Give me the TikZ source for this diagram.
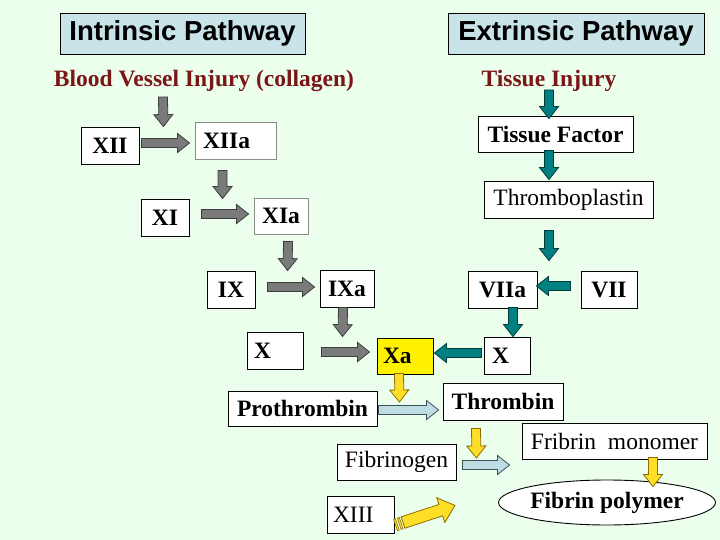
\documentclass[tikz,border=0pt]{standalone}
\usepackage{fontspec}
\setmainfont{Liberation Serif}
\newfontfamily\arialfam{Liberation Sans}
\usetikzlibrary{calc,shapes.geometric}
\definecolor{bg}{RGB}{236,255,236}
\definecolor{titlefill}{RGB}{200,228,232}
\definecolor{maroonc}{RGB}{122,22,22}
\definecolor{arrgray}{RGB}{122,122,122}
\definecolor{arrgrayd}{RGB}{60,60,60}
\definecolor{tealc}{RGB}{0,128,128}
\definecolor{teald}{RGB}{0,60,60}
\definecolor{yelc}{RGB}{255,222,40}
\definecolor{yeld}{RGB}{140,110,0}
\definecolor{lbluec}{RGB}{190,220,228}
\definecolor{lblued}{RGB}{60,80,90}
\definecolor{boxgray}{RGB}{140,140,140}
\newcommand{\tmsize}{\fontsize{23.5}{28}\selectfont}
\def\bsh{4.5pt}\def\bhh{9.5pt}\def\bhl{12pt}
\newcommand{\blk}[3]{%
  \coordinate (ba) at #2; \coordinate (bb) at #3;
  \coordinate (bc) at ($(bb)!\bhl!(ba)$);
  \draw[#1] ($(ba)!\bsh!90:(bb)$) -- ($(bc)!\bsh!90:(bb)$) -- ($(bc)!\bhh!90:(bb)$) -- (bb)
    -- ($(bc)!\bhh!-90:(bb)$) -- ($(bc)!\bsh!-90:(bb)$) -- ($(ba)!\bsh!-90:(bb)$) -- cycle;}
\tikzset{
  bx/.style={draw=black, fill=white, line width=0.9pt, inner sep=0pt, font=\tmsize},
  bxb/.style={bx, font=\tmsize\bfseries},
  title/.style={draw=black, fill=titlefill, line width=0.9pt, inner sep=0pt, font=\arialfam\bfseries\fontsize{27.5}{32}\selectfont},
  head/.style={inner sep=0pt, anchor=base, text=maroonc, font=\tmsize\bfseries},
  garr/.style={fill=arrgray, draw=arrgrayd, line width=0.8pt, line join=miter},
  tarr/.style={fill=tealc, draw=teald, line width=0.8pt, line join=miter},
  yarr/.style={fill=yelc, draw=yeld, line width=0.8pt, line join=miter},
  barr/.style={fill=lbluec, draw=lblued, line width=0.8pt, line join=miter}
}
\begin{document}
\begin{tikzpicture}[x=1pt,y=-1pt]
\fill[bg] (0,0) rectangle (720,540);
\useasboundingbox (0,0) rectangle (720,540);
% titles
\node[title, minimum width=245, minimum height=41] (intr) at (182.5,33.5) {Intrinsic Pathway};
\node[title, minimum width=256, minimum height=41] (extr) at (576,33.5) {Extrinsic Pathway};
\node[head] (bvi) at (204,87) {Blood Vessel Injury (collagen)};
\node[head] (ti) at (549,87) {Tissue Injury};
% intrinsic boxes
\node[bxb, minimum width=58, minimum height=37] (XII) at (110,145.5) {XII};
\node[bxb, draw=boxgray, minimum height=37, text width=65, align=left, inner xsep=8] (XIIa) at (235.5,140.5) {XIIa};
\node[bxb, minimum width=48, minimum height=37] (XI) at (165,217.5) {XI};
\node[bxb, draw=boxgray, minimum width=54, minimum height=36] (XIa) at (281,216) {XIa};
\node[bxb, minimum width=48, minimum height=37] (IX) at (231,289.5) {IX};
\node[bxb, minimum width=54, minimum height=37] (IXa) at (347,288.5) {IXa};
\node[bxb, minimum height=37, text width=42, align=left, inner xsep=7] (X1) at (275,350.5) {X};
\node[bxb, fill=yellow, minimum height=36, text width=44, align=left, inner xsep=6] (Xa) at (405,356) {Xa};
% extrinsic boxes
\node[bxb, minimum width=155, minimum height=36] (TF) at (555.5,134) {Tissue Factor};
\node[bx, minimum width=169, minimum height=37] (TP) at (568.5,199.5) {Thromboplastin};
\node[bxb, minimum width=69, minimum height=37] (VIIa) at (502.5,289.5) {VIIa};
\node[bxb, minimum width=56, minimum height=37] (VII) at (609,289.5) {VII};
\node[bxb, minimum height=37, text width=30, align=left, inner xsep=8] (X2) at (507,355.5) {X};
% common
\node[bxb, minimum width=149, minimum height=35] (PT) at (302.5,408.5) {Prothrombin};
\node[bxb, minimum width=120, minimum height=37] (TH) at (503,401.5) {Thrombin};
\node[bx, minimum width=119, minimum height=36] (FG) at (396.5,462) {Fibrinogen};
\node[bx, minimum width=185, minimum height=36] (FM) at (614.5,441) {Fribrin\ \ monomer};
\node[bxb, ellipse, minimum width=188, minimum height=45] (FP) at (607,502.5) {Fibrin polymer};
\node[bx, minimum height=37, text width=55, align=left, inner xsep=6] (XIII) at (360.5,514.5) {XIII};
% gray arrows
\blk{garr}{($(bvi.base)+(-41,10)$)}{($(XII.north east)+(24,0)$)}
\blk{garr}{($(XII.east)+(2,-2.5)$)}{($(XIIa.west)+(-5,2.5)$)}
\blk{garr}{($(XIIa.south west)+(28,11)$)}{($(XIa.north west)+(-31,1)$)}
\blk{garr}{($(XI.east)+(12,-3.5)$)}{($(XIa.west)+(-5,-2)$)}
\blk{garr}{($(XIa.south)+(7,7)$)}{($(IXa.north west)+(-32,1)$)}
\blk{garr}{($(IX.east)+(12,-2.5)$)}{($(IXa.west)+(-5,-1.5)$)}
\blk{garr}{($(IXa.south)+(-4,0)$)}{($(Xa.north west)+(-34,-1)$)}
\blk{garr}{($(X1.east)+(18,1.5)$)}{($(Xa.west)+(-7,-4)$)}
% teal arrows
\blk{tarr}{($(ti.base)+(0,3)$)}{($(TF.north)+(-6.5,3)$)}
\blk{tarr}{($(TF.south)+(-6.5,-2)$)}{($(TP.north)+(-19.5,-1)$)}
\blk{tarr}{($(TP.south)+(-19.5,12)$)}{($(VIIa.north)+(46.5,-10)$)}
\blk{tarr}{($(VII.west)+(-10,-3.5)$)}{($(VIIa.east)+(-1,-3.5)$)}
\blk{tarr}{($(VIIa.south)+(10.5,-1)$)}{($(X2.north)+(6,0)$)}
\blk{tarr}{($(X2.west)+(-2,-2.5)$)}{($(Xa.east)+(1,-3)$)}
% yellow arrows
\blk{yarr}{($(Xa.south)+(-6,-1)$)}{($(PT.east)+(22,-6.5)$)}
\blk{yarr}{($(TH.south)+(-27,8)$)}{($(FG.east)+(20,-4)$)}
\blk{yarr}{($(FM.south)+(38.5,-2)$)}{($(FP.north)+(46,7)$)}
% light blue arrows
\blk{barr}{($(PT.east)+(1,1.5)$)}{($(TH.west)+(-4,8.5)$)}
\blk{barr}{($(FG.east)+(6,3)$)}{($(FM.west)+(-12,24)$)}
% striped XIII arrow
\coordinate (xs) at ($(XIII.east)+(1,10.5)$);
\coordinate (xe) at ($(FG.south)+(58.5,25)$);
{\def\bsh{6pt}\def\bhh{13pt}\def\bhl{15pt}
\blk{yarr}{($(xs)!8pt!(xe)$)}{(xe)}}
\coordinate (s1) at (xs); \coordinate (s2) at ($(xs)!2pt!(xe)$);
\coordinate (s3) at ($(xs)!4pt!(xe)$); \coordinate (s4) at ($(xs)!6pt!(xe)$);
\draw[yarr, line width=0.6pt] ($(s1)!6pt!90:(xe)$) -- ($(s2)!6pt!90:(xe)$) -- ($(s2)!6pt!-90:(xe)$) -- ($(s1)!6pt!-90:(xe)$) -- cycle;
\draw[yarr, line width=0.6pt] ($(s3)!6pt!90:(xe)$) -- ($(s4)!6pt!90:(xe)$) -- ($(s4)!6pt!-90:(xe)$) -- ($(s3)!6pt!-90:(xe)$) -- cycle;
\end{tikzpicture}
\end{document}
